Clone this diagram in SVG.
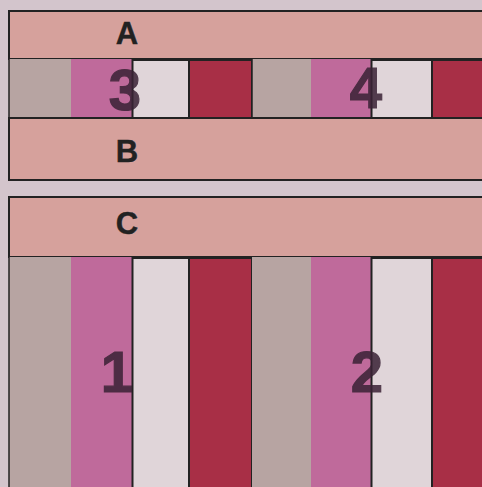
<svg xmlns="http://www.w3.org/2000/svg" width="482" height="487" viewBox="0 0 482 487">
<style>
.box{fill:#d6a19c;stroke:#222;stroke-width:2}
.g{fill:#b7a4a2}
.p{fill:#bf6a9b}
.l{fill:#e0d5d9;stroke:#222;stroke-width:2}
.r{fill:#a82f46;stroke:#222;stroke-width:2}
.lbl{font-family:"Liberation Sans",Arial,sans-serif;font-weight:bold;font-size:31px;fill:#222;stroke:#222;stroke-width:0.4;text-anchor:middle}
.num{font-family:"Liberation Sans",Arial,sans-serif;font-weight:bold;font-size:58px;fill:#3a2235;stroke:#3a2235;stroke-width:1.2;opacity:0.85;text-anchor:middle}
.edge{fill:none;stroke:#222;stroke-width:1.5}
</style>
<rect width="482" height="487" fill="#d3c5cc"/>
<g id="box-A"><rect class="box" x="9" y="11" width="480" height="48"/><text class="lbl" x="127" y="44">A</text></g>
<g id="row-top">
<rect class="g" x="9" y="59" width="62" height="59"/>
<rect class="p" x="71" y="59" width="61" height="59"/>
<rect class="l" x="132.5" y="60" width="56.5" height="58"/>
<rect class="r" x="189" y="60" width="63" height="58"/>
<rect class="g" x="252" y="59" width="59" height="59"/>
<rect class="p" x="311" y="59" width="60" height="59"/>
<rect class="l" x="371.5" y="60" width="60.5" height="58"/>
<rect class="r" x="432" y="60" width="52" height="58"/>
<line class="edge" x1="9" y1="59" x2="9" y2="118"/>
<line class="edge" x1="252" y1="59" x2="252" y2="118"/>
<text class="num" x="125" y="110">3</text>
<text class="num" x="366" y="108">4</text>
</g>
<g id="box-B"><rect class="box" x="9" y="118" width="480" height="62"/><text class="lbl" x="127" y="162">B</text></g>
<g id="box-C"><rect class="box" x="9" y="197" width="480" height="60"/><text class="lbl" x="127" y="234">C</text></g>
<g id="row-bottom">
<rect class="g" x="9" y="257" width="62" height="232"/>
<rect class="p" x="71" y="257" width="61" height="232"/>
<rect class="l" x="132.5" y="258" width="56.5" height="232"/>
<rect class="r" x="189" y="258" width="63" height="232"/>
<rect class="g" x="252" y="257" width="59" height="232"/>
<rect class="p" x="311" y="257" width="60" height="232"/>
<rect class="l" x="371.5" y="258" width="60.5" height="232"/>
<rect class="r" x="432" y="258" width="52" height="232"/>
<line class="edge" x1="9" y1="257" x2="9" y2="487"/>
<text class="num" x="117" y="392">1</text>
<text class="num" x="367" y="392">2</text>
</g>
<g id="connectors"/>
</svg>
